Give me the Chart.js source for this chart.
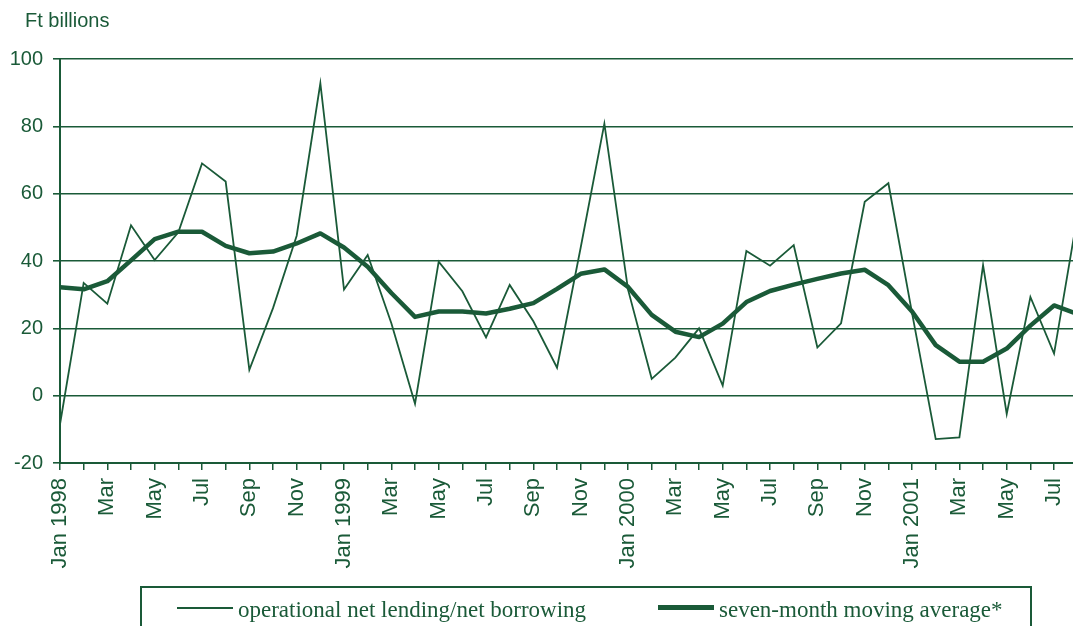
<!DOCTYPE html>
<html lang="en">
<head>
    <meta charset="UTF-8">
    <title>Operational net lending/net borrowing</title>
    <style>
        body {
            margin: 0;
            padding: 0;
            background-color: #fff;
            overflow: hidden;
        }
        .wrap {
            position: relative;
            width: 1073px;
            height: 626px;
            overflow: hidden;
        }
        .unit {
            position: absolute;
            left: 25px;
            top: 9px;
            font-family: 'Liberation Sans', Arial, sans-serif;
            font-size: 20px;
            color: #1a5a38;
        }
        .legend {
            position: absolute;
            left: 140px;
            top: 586px;
            width: 892px;
            height: 60px;
            border: 2px solid #1a5a38;
            box-sizing: border-box;
            font-family: 'Liberation Serif', 'Times New Roman', serif;
            font-size: 23px;
            color: #1a5a38;
        }
        .legend .item {
            position: absolute;
            top: 9px;
            white-space: nowrap;
        }
        .legend .swatch {
            display: inline-block;
            width: 56px;
            margin-right: 5px;
            background: #1a5a38;
        }
    </style>
</head>
<body>
    <div class="wrap">
        <canvas id="chart" width="1073" height="626"></canvas>
        <div class="unit">Ft billions</div>
        <div class="legend">
            <span class="item" style="left: 35px;"><span class="swatch" style="height: 2px; vertical-align: 8px;"></span>operational net lending/net borrowing</span>
            <span class="item" style="left: 516px;"><span class="swatch" style="height: 5px; vertical-align: 7px;"></span>seven-month moving average*</span>
        </div>
    </div>
    <script src="https://cdn.jsdelivr.net/npm/chart.js@4"></script>
    <script>
        // months Jan 1998 .. Aug 2001
        const months = [
            'Jan 1998', 'Feb', 'Mar', 'Apr', 'May', 'Jun', 'Jul', 'Aug', 'Sep', 'Oct', 'Nov', 'Dec',
            'Jan 1999', 'Feb', 'Mar', 'Apr', 'May', 'Jun', 'Jul', 'Aug', 'Sep', 'Oct', 'Nov', 'Dec',
            'Jan 2000', 'Feb', 'Mar', 'Apr', 'May', 'Jun', 'Jul', 'Aug', 'Sep', 'Oct', 'Nov', 'Dec',
            'Jan 2001', 'Feb', 'Mar', 'Apr', 'May', 'Jun', 'Jul', 'Aug'
        ];

        const operational = [
            -8.5, 33.5, 27.3, 50.6, 40.3, 48.5, 69.0, 63.6, 7.7, 26.0, 47.5, 92.8,
            31.5, 41.8, 21.5, -2.4, 39.8, 31.0, 17.3, 32.9, 22.1, 8.3, 44.0, 80.8,
            31.5, 5.0, 11.3, 20.0, 3.0, 43.0, 38.6, 44.7, 14.3, 21.5, 57.6, 63.1,
            24.5, -12.9, -12.4, 38.8, -5.4, 29.3, 12.5, 54.0
        ];

        const movingAverage = [
            32.2, 31.6, 34.0, 40.2, 46.5, 48.7, 48.7, 44.5, 42.3, 42.8, 45.2, 48.2,
            44.0, 38.3, 30.5, 23.4, 25.0, 25.0, 24.4, 25.8, 27.5, 31.7, 36.2, 37.5,
            32.3, 24.0, 19.0, 17.4, 21.4, 27.8, 31.1, 33.0, 34.7, 36.3, 37.4, 32.8,
            25.0, 15.0, 10.1, 10.1, 14.0, 20.8, 26.8, 24.2
        ];

        const yTicks = [-20, 0, 20, 40, 60, 80, 100];

        const green = '#1a5a38';

        function toPoints(values) {
            return values.map((v, i) => ({ x: i, y: v }));
        }

        const ctx = document.getElementById('chart').getContext('2d');
        new Chart(ctx, {
            type: 'line',
            data: {
                datasets: [
                    {
                        label: 'operational net lending/net borrowing',
                        data: toPoints(operational),
                        borderColor: green,
                        borderWidth: 1.8,
                        pointRadius: 0,
                        tension: 0
                    },
                    {
                        label: 'seven-month moving average*',
                        data: toPoints(movingAverage),
                        borderColor: green,
                        borderWidth: 4.5,
                        pointRadius: 0,
                        tension: 0,
                        borderJoinStyle: 'round'
                    }
                ]
            },
            options: {
                responsive: false,
                animation: false,
                devicePixelRatio: 1,
                layout: {
                    padding: { top: 59, left: 0, right: 0, bottom: 0 }
                },
                plugins: {
                    legend: { display: false },
                    tooltip: { enabled: false }
                },
                scales: {
                    x: {
                        type: 'linear',
                        min: 0,
                        max: 42.8,
                        afterFit: function(scale) {
                            scale.height = 163;
                            scale.paddingLeft = 0;
                            scale.paddingRight = 0;
                        },
                        grid: {
                            drawOnChartArea: false,
                            drawTicks: true,
                            tickLength: 7,
                            color: green,
                            lineWidth: 1.5
                        },
                        border: { color: green, width: 2 },
                        ticks: {
                            stepSize: 1,
                            includeBounds: false,
                            autoSkip: false,
                            minRotation: 90,
                            maxRotation: 90,
                            padding: 8,
                            color: green,
                            font: { family: "'Liberation Sans', Arial, sans-serif", size: 22 },
                            callback: function(value) {
                                return value % 2 === 0 ? months[value] : '';
                            }
                        }
                    },
                    y: {
                        min: -20,
                        max: 100,
                        afterFit: function(scale) {
                            scale.width = 60;
                        },
                        afterBuildTicks: function(scale) {
                            scale.ticks = yTicks.map(v => ({ value: v }));
                        },
                        grid: {
                            color: green,
                            lineWidth: 1.6,
                            tickLength: 7
                        },
                        border: { color: green, width: 2 },
                        ticks: {
                            padding: 10,
                            color: green,
                            font: { family: "'Liberation Sans', Arial, sans-serif", size: 20 }
                        }
                    }
                }
            }
        });
    </script>
</body>
</html>
